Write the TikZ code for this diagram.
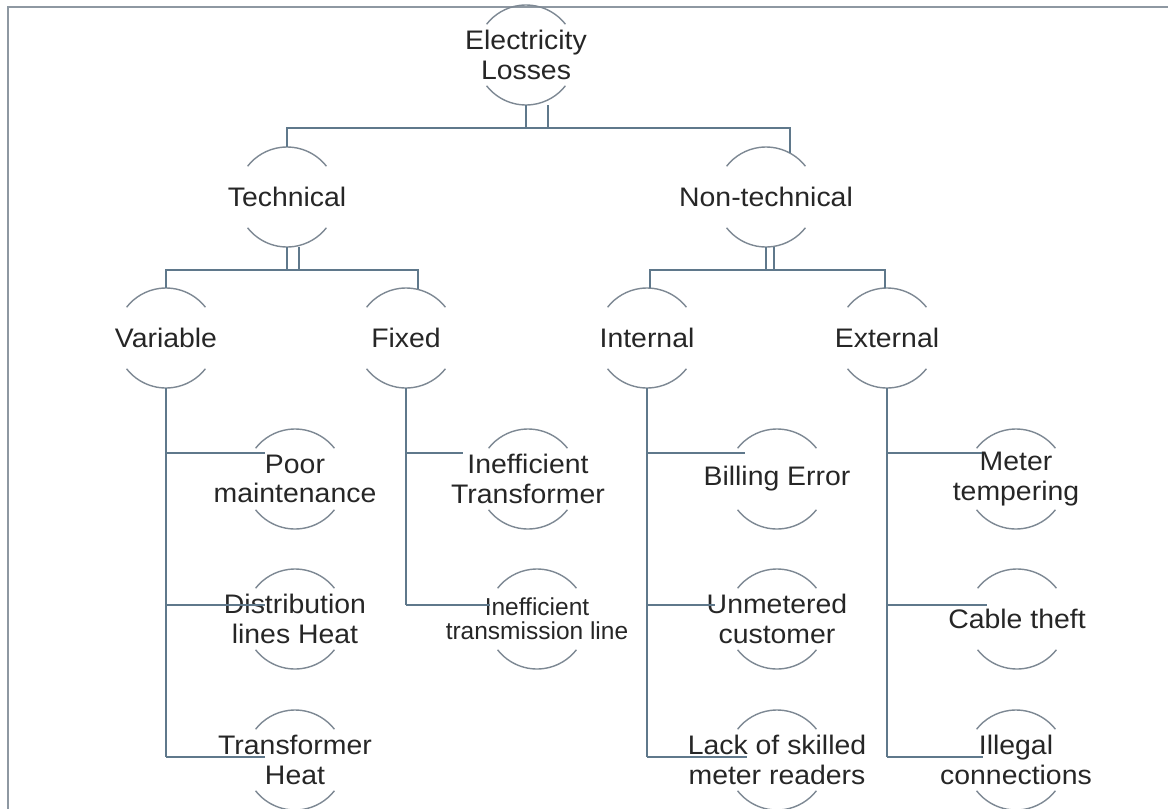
\documentclass[tikz,border=0pt]{standalone}
\usepackage{fontspec}
\setmainfont{Liberation Sans}
\newfontfamily\widesans{Liberation Sans}[FakeStretch=1.06]
\usepackage{tikz}
\usetikzlibrary{calc}
\definecolor{lossText}{HTML}{262626}
\definecolor{lossWire}{HTML}{5F788B}
\definecolor{lossRim}{HTML}{7D8893}
\definecolor{lossFrame}{HTML}{8E98A2}

\begin{document}
\begin{tikzpicture}[
    x=1pt, y=1pt,
    bubble/.style={align=center, inner sep=0pt, text=lossText, font=\widesans\fontsize{26.8}{29.5}\selectfont},
    smallbubble/.style={bubble, font=\rmfamily\fontsize{24.5}{24}\selectfont},
    rim/.style={draw=lossRim, line width=1.4pt},
    wire/.style={draw=lossWire, line width=1.4pt},
  ]
  \useasboundingbox (0,0) rectangle (1168,-809);
  \draw[draw=lossFrame, line width=2pt] (1168,-7) -- (8,-7) -- (8,-809);

  % tree nodes
  \node[bubble] (root) at (526,-55) {Electricity\\Losses};
  \node[bubble] (tech) at (287,-197) {Technical};
  \node[bubble] (nontech) at (766,-197) {Non-technical};
  \node[bubble] (var) at (166,-338) {Variable};
  \node[bubble] (fixed) at (406,-338) {Fixed};
  \node[bubble] (intern) at (647,-338) {Internal};
  \node[bubble] (extern) at (887,-338) {External};
  \node[bubble] (poor) at (295,-479) {Poor\\maintenance};
  \node[bubble] (dist) at (295,-619) {Distribution\\lines Heat};
  \node[bubble] (theat) at (295,-760) {Transformer\\Heat};
  \node[bubble] (ineftr) at (528,-479) {Inefficient\\Transformer};
  \node[smallbubble] (ineftl) at (537,-619) {Inefficient\\transmission line};
  \node[bubble] (bill) at (777,-479) {Billing Error};
  \node[bubble] (unmet) at (777,-619) {Unmetered\\customer};
  \node[bubble] (lack) at (777,-760) {Lack of skilled\\meter readers};
  \node[bubble] (meter) at (1016,-479) {Meter\\tempering};
  \node[bubble] (cable) at (1017,-619) {Cable theft};
  \node[bubble] (illegal) at (1016,-760) {Illegal\\connections};

  % open circles round the texts
  \foreach \n in {root,tech,nontech,var,fixed,intern,extern,poor,dist,theat,ineftr,ineftl,bill,unmet,lack,meter,cable,illegal}{
    \draw[rim] ([shift={(38:50)}]\n.center) arc[start angle=38, end angle=142, radius=50];
    \draw[rim] ([shift={(218:50)}]\n.center) arc[start angle=218, end angle=322, radius=50];
  }

  % where the branches meet the leaves
  \coordinate (poor-in) at ([shift={(-30,26)}]poor.center);
  \coordinate (dist-in) at ([shift={(-30,14)}]dist.center);
  \coordinate (theat-in) at ([shift={(-30,3)}]theat.center);
  \coordinate (ineftr-in) at ([shift={(-65,26)}]ineftr.center);
  \coordinate (ineftl-in) at ([shift={(-47,14)}]ineftl.center);
  \coordinate (bill-in) at ([shift={(-32,26)}]bill.center);
  \coordinate (unmet-in) at ([shift={(-62,14)}]unmet.center);
  \coordinate (lack-in) at ([shift={(-30,3)}]lack.center);
  \coordinate (meter-in) at ([shift={(-34,26)}]meter.center);
  \coordinate (cable-in) at ([shift={(-30,14)}]cable.center);
  \coordinate (illegal-in) at ([shift={(-33,3)}]illegal.center);

  % root to level 1
  \draw[wire] ([shift={(0,-50)}]root.center) -- ++(0,-23);
  \draw[wire] ([shift={(22,-50)}]root.center) -- ++(0,-23);
  \draw[wire] ([shift={(0,50)}]tech.center) |- ([shift={(24,69)}]nontech.center) -- ([shift={(24,44)}]nontech.center);

  % level 1 to level 2
  \draw[wire] ([shift={(0,-50)}]tech.center) -- ++(0,-23);
  \draw[wire] ([shift={(12,-50)}]tech.center) -- ++(0,-23);
  \draw[wire] ([shift={(0,50)}]var.center) |- ([shift={(12,68)}]fixed.center) -- ([shift={(12,49)}]fixed.center);
  \draw[wire] ([shift={(0,-50)}]nontech.center) -- ++(0,-23);
  \draw[wire] ([shift={(8,-50)}]nontech.center) -- ++(0,-23);
  \draw[wire] ([shift={(3,50)}]intern.center) |- ([shift={(-2,68)}]extern.center) -- ([shift={(-2,50)}]extern.center);

  % trunks and branches
  \draw[wire] ([shift={(0,-50)}]var.center) -- (var.center |- theat-in);
  \draw[wire] (var.center |- poor-in) -- (poor-in);
  \draw[wire] (var.center |- dist-in) -- (dist-in);
  \draw[wire] (var.center |- theat-in) -- (theat-in);
  \draw[wire] ([shift={(0,-50)}]fixed.center) -- (fixed.center |- ineftl-in);
  \draw[wire] (fixed.center |- ineftr-in) -- (ineftr-in);
  \draw[wire] (fixed.center |- ineftl-in) -- (ineftl-in);
  \draw[wire] ([shift={(0,-50)}]intern.center) -- (intern.center |- lack-in);
  \draw[wire] (intern.center |- bill-in) -- (bill-in);
  \draw[wire] (intern.center |- unmet-in) -- (unmet-in);
  \draw[wire] (intern.center |- lack-in) -- (lack-in);
  \draw[wire] ([shift={(0,-50)}]extern.center) -- (extern.center |- illegal-in);
  \draw[wire] (extern.center |- meter-in) -- (meter-in);
  \draw[wire] (extern.center |- cable-in) -- (cable-in);
  \draw[wire] (extern.center |- illegal-in) -- (illegal-in);
\end{tikzpicture}
\end{document}
